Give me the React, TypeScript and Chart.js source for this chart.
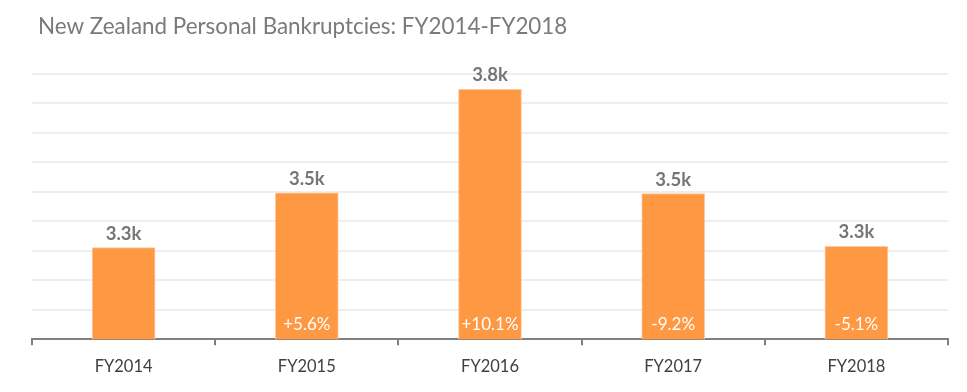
import React, { useEffect, useRef } from "react";
import { Chart, registerables } from "chart.js";

Chart.register(...registerables);

const categories = ["FY2014", "FY2015", "FY2016", "FY2017", "FY2018"];
const bankruptcies = [3311, 3497, 3848, 3494, 3315];
const valueLabels = ["3.3k", "3.5k", "3.8k", "3.5k", "3.3k"];
const changeLabels = ["", "+5.6%", "+10.1%", "-9.2%", "-5.1%"];
const titleText = "New Zealand Personal Bankruptcies: FY2014-FY2018";
const yMin = 3000;
const yMax = 3900;
const yStep = 100;

const FONT = "Lato, 'Open Sans', sans-serif";

const labelPlugin = {
  id: "barLabels",
  afterDatasetsDraw(chart: any) {
    const ctx = chart.ctx;
    const meta = chart.getDatasetMeta(0);
    const base = chart.chartArea.bottom;
    ctx.save();
    ctx.textAlign = "center";
    ctx.textBaseline = "middle";
    meta.data.forEach((bar: any, i: number) => {
      ctx.font = `bold 18.5px ${FONT}`;
      ctx.fillStyle = "#767676";
      ctx.fillText(valueLabels[i], bar.x, bar.y - 14);
      if (changeLabels[i]) {
        ctx.font = `17px ${FONT}`;
        ctx.fillStyle = "#ffffff";
        ctx.fillText(changeLabels[i], bar.x, base - 15);
      }
    });
    ctx.restore();
  },
  afterDraw(chart: any) {
    const ctx = chart.ctx;
    ctx.save();
    ctx.font = `22.4px ${FONT}`;
    ctx.fillStyle = "#7a7a7a";
    ctx.textAlign = "left";
    ctx.textBaseline = "middle";
    ctx.fillText(titleText, 38, 27);
    ctx.restore();
  },
};

export default function App() {
  const ref = useRef<HTMLCanvasElement | null>(null);
  useEffect(() => {
    if (!ref.current) return;
    const chart = new Chart(ref.current, {
      type: "bar",
      data: {
        labels: categories,
        datasets: [
          {
            data: bankruptcies,
            backgroundColor: "#ff9843",
            borderColor: "#ffc9a0",
            borderWidth: 1,
            barThickness: 63,
          },
        ],
      },
      options: {
        animation: false,
        responsive: true,
        maintainAspectRatio: false,
        layout: { padding: { top: 74, left: 32, right: 19, bottom: 3 } },
        plugins: {
          legend: { display: false },
          title: { display: false },
          tooltip: { enabled: false },
        },
        scales: {
          x: {
            offset: true,
            grid: {
              offset: true,
              drawOnChartArea: false,
              color: "#7f7f7f",
              lineWidth: 2,
              tickLength: 6,
            },
            border: { display: true, color: "#7f7f7f", width: 2 },
            ticks: {
              color: "#404040",
              font: { family: FONT, size: 16.5 },
              padding: 12,
            },
          },
          y: {
            min: yMin,
            max: yMax,
            ticks: { display: false, stepSize: yStep },
            grid: { color: "#eeeeee", lineWidth: 2, drawTicks: false },
            border: { display: false },
          },
        },
      },
      plugins: [labelPlugin],
    });
    return () => chart.destroy();
  }, []);
  return (
    <div style={{ position: "fixed", left: 0, top: 0, width: 967, height: 392, background: "#fff" }}>
      <canvas ref={ref} />
    </div>
  );
}
